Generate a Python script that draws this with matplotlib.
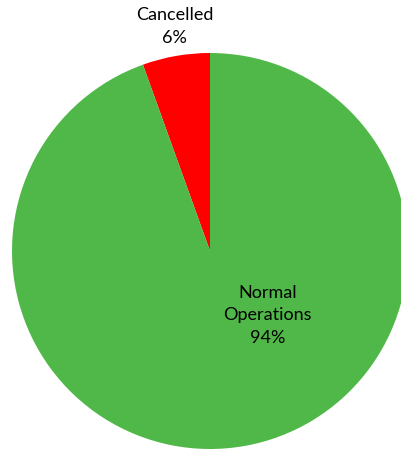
import matplotlib
matplotlib.use("Agg")
import matplotlib.pyplot as plt

labels = ["Cancelled", "Normal\nOperations"]
values = [5.5, 94.5]
colors = ["#FF0000", "#50B848"]

plt.rcParams['font.family'] = ['Lato', 'DejaVu Sans']

fig = plt.figure(figsize=(4.02, 4.52), dpi=100)
# pie centre at (210, 252) px, radius 198 px
ax = fig.add_axes([12 / 402, 2 / 452, 396 / 402, 396 / 452])
ax.pie(values, colors=colors, startangle=90, counterclock=True,
       radius=1.0, wedgeprops={'linewidth': 0})
ax.set_xlim(-1, 1)
ax.set_ylim(-1, 1)
ax.set_aspect('equal')
ax.axis('off')

pcts = [f"{round(v)}%" for v in values]
# label positions in axes units
pos = [(-0.18, 1.14), (0.29, -0.32)]
for lab, pct, (x, y) in zip(labels, pcts, pos):
    ax.text(x, y, f"{lab}\n{pct}", ha='center', va='center',
            fontsize=13, linespacing=1.5, color='black', clip_on=False)

fig.savefig("out.png", dpi=100)
